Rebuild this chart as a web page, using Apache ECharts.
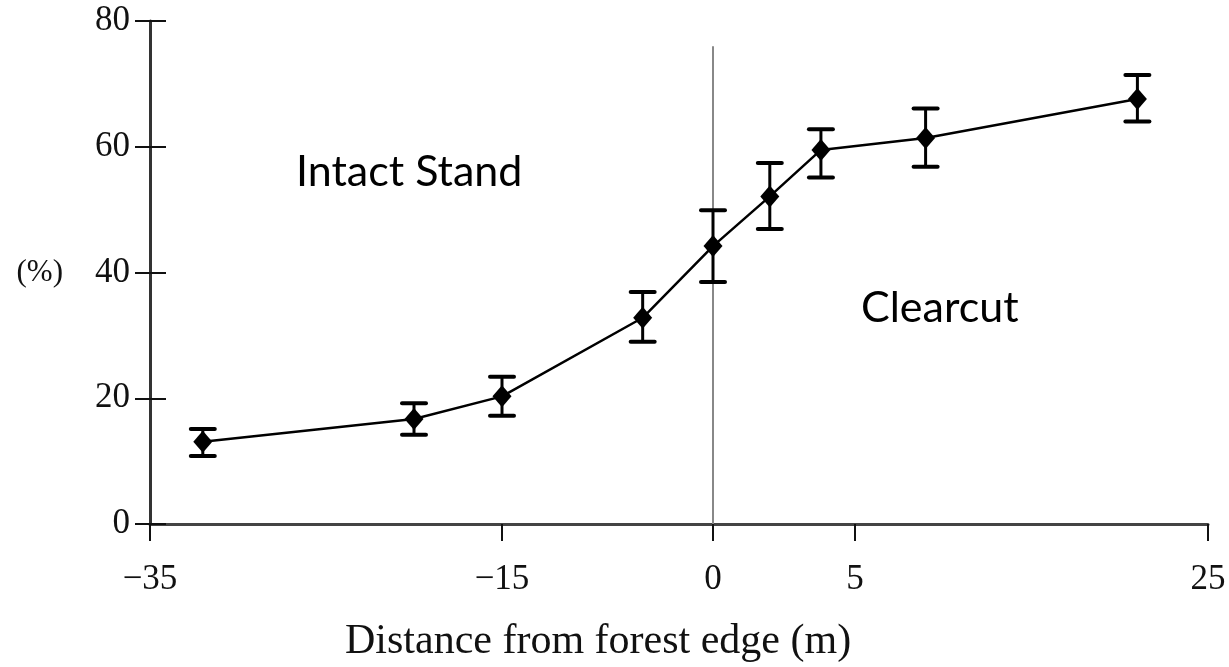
<!DOCTYPE html>
<html>
<head>
<meta charset="utf-8">
<script src="https://cdn.jsdelivr.net/npm/echarts@6/dist/echarts.min.js"></script>
<style>
html,body{margin:0;padding:0;background:#fff;}
#chart{width:1229px;height:667px;}
</style>
</head>
<body>
<div id="chart"></div>
<script>
// ---- data ----
const distance = [-32, -20, -15, -5, 0, 2, 3.8, 9, 21];
const meanPct  = [13.1, 16.7, 20.3, 32.8, 44.2, 52.1, 59.5, 61.4, 67.6];
const errLow   = [10.8, 14.2, 17.2, 29.0, 38.5, 46.9, 55.1, 56.8, 64.0];
const errHigh  = [15.1, 19.2, 23.4, 36.9, 49.9, 57.4, 62.8, 66.1, 71.4];
const xTickValues = [-35, -15, 0, 5, 25];
const xTickLabels = ['\u221235', '\u221215', '0', '5', '25'];
const yTicks = [0, 20, 40, 60, 80];
const edgeLineTop = 76;
const xAxisTitle = 'Distance from forest edge (m)';
const yAxisTitle = '(%)';
const leftLabel = 'Intact Stand';
const rightLabel = 'Clearcut';

// ---- piecewise (non-uniform) x scale as drawn in the source figure ----
const segWidths = [352, 211, 142, 353];
const tickPos = [0];
segWidths.forEach(w => tickPos.push(tickPos[tickPos.length - 1] + w));
function xd(v) {
  for (let i = 0; i < xTickValues.length - 1; i++) {
    const a = xTickValues[i], b = xTickValues[i + 1];
    if (v <= b || i === xTickValues.length - 2) {
      return tickPos[i] + (v - a) / (b - a) * (tickPos[i + 1] - tickPos[i]);
    }
  }
}
function labelFor(p) {
  for (let i = 0; i < tickPos.length; i++) if (Math.abs(tickPos[i] - p) < 0.5) return xTickLabels[i];
  return '';
}
const xMax = tickPos[tickPos.length - 1];
const tickDisp = xTickValues.map(xd);

const serif = '"Liberation Serif", "DejaVu Serif", serif';
const sans = 'Lato, "Noto Sans", sans-serif';
const chart = echarts.init(document.getElementById('chart'));

const xBase = {
  type: 'value', min: 0, max: xMax, gridIndex: 0,
  splitLine: { show: false }
};
const yBase = {
  type: 'value', min: 0, max: 80, interval: 20, gridIndex: 0,
  splitLine: { show: false }
};

chart.setOption({
  animation: false,
  backgroundColor: '#fff',
  grid: { left: 150, right: 21, top: 21, bottom: 143, containLabel: false, outerBoundsMode: 'none' },
  xAxis: [
    Object.assign({}, xBase, {
      axisLine: { show: true, lineStyle: { color: '#444', width: 3 } },
      axisTick: { show: true, inside: false, length: 17, customValues: tickDisp, lineStyle: { color: '#111', width: 2 } },
      axisLabel: { show: true, customValues: tickDisp, formatter: v => labelFor(v), margin: 38,
        fontFamily: serif, fontSize: 35, color: '#111' }
    }),
    Object.assign({}, xBase, {
      axisLine: { show: false },
      axisTick: { show: true, inside: true, length: 16, customValues: tickDisp, lineStyle: { color: '#111', width: 2 } },
      axisLabel: { show: false }
    })
  ],
  yAxis: [
    Object.assign({}, yBase, {
      name: yAxisTitle, nameLocation: 'middle', nameRotate: 0, nameGap: 87,
      nameTextStyle: { fontFamily: serif, fontSize: 31, color: '#111', padding: [8, 0, 0, 0] },
      axisLine: { show: true, lineStyle: { color: '#333', width: 3 } },
      axisTick: { show: true, inside: false, length: 15, lineStyle: { color: '#111', width: 2 } },
      axisLabel: { show: true, margin: 20, fontFamily: serif, fontSize: 35, color: '#111',
        formatter: v => (yTicks.indexOf(v) >= 0 ? String(v) : '') }
    }),
    Object.assign({}, yBase, {
      position: 'left',
      axisLine: { show: false },
      axisTick: { show: true, inside: true, length: 16, lineStyle: { color: '#111', width: 2 } },
      axisLabel: { show: false }
    })
  ],
  graphic: [
    { type: 'text', left: 296, top: 151, style: { text: leftLabel, font: '43px ' + sans, fill: '#000' } },
    { type: 'text', left: 861, top: 287, style: { text: rightLabel, font: '43px ' + sans, fill: '#000' } },
    { type: 'text', left: 345, top: 621, style: { text: xAxisTitle, font: '42px ' + serif, fill: '#111' } }
  ],
  series: [
    {
      type: 'custom',
      xAxisIndex: 0, yAxisIndex: 0,
      data: distance.map((d, i) => [xd(d), errLow[i], errHigh[i]]),
      renderItem: function (params, api) {
        const x = api.value(0);
        const pLo = api.coord([x, api.value(1)]);
        const pHi = api.coord([x, api.value(2)]);
        const hw = 12;
        const st = { stroke: '#000', lineWidth: 3 };
        const cap = { stroke: '#000', lineWidth: 4, lineCap: 'round' };
        return {
          type: 'group',
          children: [
            { type: 'line', shape: { x1: pLo[0], y1: pLo[1], x2: pHi[0], y2: pHi[1] }, style: st },
            { type: 'line', shape: { x1: pHi[0] - hw, y1: pHi[1], x2: pHi[0] + hw, y2: pHi[1] }, style: cap },
            { type: 'line', shape: { x1: pLo[0] - hw, y1: pLo[1], x2: pLo[0] + hw, y2: pLo[1] }, style: cap }
          ]
        };
      },
      z: 3
    },
    {
      type: 'line',
      xAxisIndex: 0, yAxisIndex: 0,
      data: distance.map((d, i) => [xd(d), meanPct[i]]),
      symbol: 'diamond',
      symbolSize: [19, 22],
      itemStyle: { color: '#000' },
      lineStyle: { color: '#000', width: 2.5 },
      z: 4,
      markLine: {
        silent: true,
        symbol: 'none',
        label: { show: false },
        lineStyle: { color: '#888', width: 2, type: 'solid' },
        data: [[{ coord: [xd(0), 0] }, { coord: [xd(0), edgeLineTop] }]],
        z: 2
      }
    }
  ]
});
</script>
</body>
</html>
